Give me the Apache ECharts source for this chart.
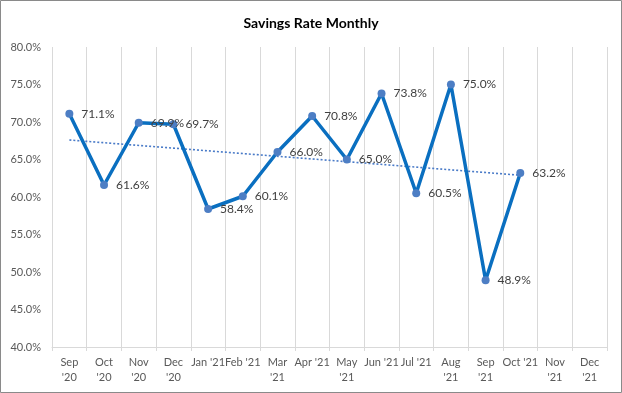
<!DOCTYPE html>
<html>
<head>
<meta charset="utf-8">
<script src="https://cdn.jsdelivr.net/npm/echarts@6/dist/echarts.min.js"></script>
<style>
html,body{margin:0;padding:0;background:#fff;}
#c{width:622px;height:393px;}
</style>
</head>
<body>
<div id="c"></div>
<script>
const categories = ["Sep\n'20","Oct\n'20","Nov\n'20","Dec\n'20","Jan '21","Feb '21","Mar\n'21","Apr '21","May\n'21","Jun '21","Jul '21","Aug\n'21","Sep\n'21","Oct '21","Nov\n'21","Dec\n'21"];
const savingsRate = [71.1,61.6,69.9,69.7,58.4,60.1,66.0,70.8,65.0,73.8,60.5,75.0,48.9,63.2,null,null];
const trendValues = [67.6,null,null,null,null,null,null,null,null,null,null,null,null,62.9,null,null];
const yMin = 40, yMax = 80, yStep = 5;

const chart = echarts.init(document.getElementById('c'), null, {renderer:'canvas'});
const font = 'Lato, "Open Sans", sans-serif';
chart.setOption({
  animation:false,
  backgroundColor:'#fff',
  title:{text:'Savings Rate Monthly',left:'center',top:11,
    textStyle:{fontFamily:font,fontSize:14,fontWeight:'bold',color:'#000'}},
  grid:{left:52,right:15,top:47,bottom:46,containLabel:false},
  xAxis:{type:'category',data:categories,boundaryGap:true,
    axisLine:{lineStyle:{color:'#d9d9d9',width:1}},
    axisTick:{show:true,length:4,lineStyle:{color:'#d9d9d9'}},
    axisLabel:{interval:0,color:'#595959',fontFamily:font,fontSize:11,lineHeight:15,margin:8},
    splitLine:{show:true,interval:0,lineStyle:{color:'#d9d9d9',width:1}}},
  yAxis:{type:'value',min:yMin,max:yMax,interval:yStep,
    axisLine:{show:false},axisTick:{show:false},splitLine:{show:false},
    axisLabel:{color:'#595959',fontFamily:font,fontSize:11,margin:11,
      formatter:v=>v.toFixed(1)+'%'}},
  graphic:[{type:'rect',shape:{x:0.5,y:0.5,width:621,height:392},silent:true,
    style:{fill:'none',stroke:'#8a8a8a',lineWidth:1},z:100}],
  series:[
    {type:'line',data:trendValues,connectNulls:true,symbol:'none',z:1,
     lineStyle:{color:'#4a7bc8',width:1.6,type:[2,2]}},
    {type:'line',data:savingsRate,symbol:'circle',symbolSize:8,z:3,
     lineStyle:{color:'#0a6fc0',width:3.5},
     itemStyle:{color:'#4d7ec4'},
     label:{show:true,position:'right',distance:8,color:'#404040',fontFamily:font,fontSize:12,
       formatter:p=>p.value==null?'':p.value.toFixed(1)+'%'}}
  ]
});
</script>
</body>
</html>
